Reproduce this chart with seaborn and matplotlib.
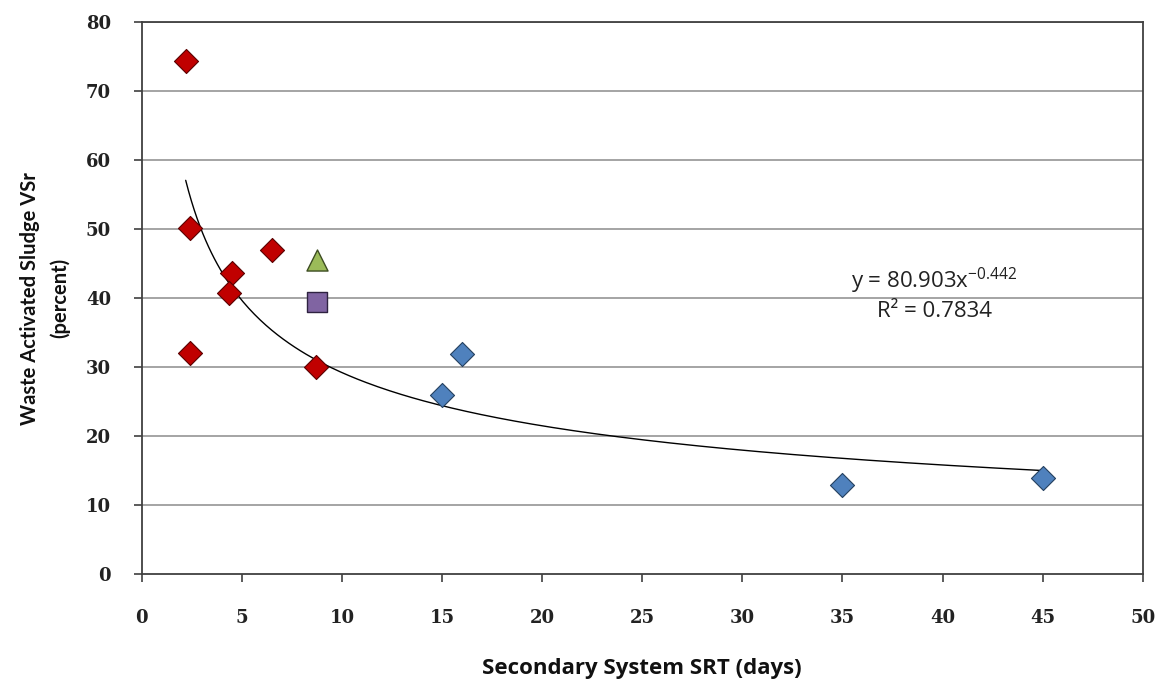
import numpy as np
import pandas as pd
import matplotlib
matplotlib.use('Agg')
import matplotlib.pyplot as plt
import seaborn as sns

# data
red_srt = [2.2, 2.4, 2.4, 4.5, 4.35, 6.5, 8.7]
red_vsr = [74.4, 50.2, 32.1, 43.6, 40.7, 47.0, 30.1]
blue_srt = [15, 16, 35, 45]
blue_vsr = [26, 32, 13, 14]
green_srt = [8.75]
green_vsr = [45.6]
purple_srt = [8.75]
purple_vsr = [39.5]

# power trendline shown on the chart
fit_a = 80.903
fit_b = -0.442
fit_r2 = 0.7834

x_ticks = list(range(0, 55, 5))
y_ticks = list(range(0, 90, 10))

sns.set_style('white')
plt.rcParams['font.family'] = ['Open Sans', 'DejaVu Sans']
plt.rcParams['mathtext.fontset'] = 'custom'
plt.rcParams['mathtext.rm'] = 'Open Sans'
plt.rcParams['mathtext.it'] = 'Open Sans'

fig = plt.figure(figsize=(11.63, 6.86), dpi=100)
ax = fig.add_axes([0.1218, 0.1628, 0.9826 - 0.1218, 0.9675 - 0.1628])

# gridlines
for yv in y_ticks[1:]:
    ax.axhline(yv, color='#8c8c8c', lw=1.1, zorder=0)

# trendline
all_srt = red_srt + blue_srt + green_srt + purple_srt
xs = np.linspace(min(all_srt), max(all_srt), 300)
trend = pd.DataFrame({'x': xs, 'y': fit_a * xs ** fit_b})
sns.lineplot(data=trend, x='x', y='y', color='black', lw=1.0, ax=ax, zorder=2)

sns.scatterplot(x=red_srt, y=red_vsr, marker='D', s=150, color='#C00000',
                edgecolor='#5a0000', linewidth=0.8, ax=ax, zorder=3)
sns.scatterplot(x=blue_srt, y=blue_vsr, marker='D', s=150, color='#4F81BD',
                edgecolor='#24405f', linewidth=0.8, ax=ax, zorder=3)
sns.scatterplot(x=green_srt, y=green_vsr, marker='^', s=230, color='#9BBB59',
                edgecolor='#3d4d22', linewidth=1.0, ax=ax, zorder=3)
sns.scatterplot(x=purple_srt, y=purple_vsr, marker='s', s=200, color='#8064A2',
                edgecolor='#2e2240', linewidth=1.0, ax=ax, zorder=3)

ax.text(39.6, 42.5, r'y = 80.903x$^{-0.442}$', ha='center', va='center',
        fontsize=16, color='#222222')
ax.text(39.6, 38.1, f'R² = {fit_r2}', ha='center', va='center',
        fontsize=16, color='#222222')

ax.set_xlim(0, 50)
ax.set_ylim(0, 80)
ax.set_xticks(x_ticks)
ax.set_yticks(y_ticks)
for sp in ax.spines.values():
    sp.set_visible(True)
    sp.set_color('#404040')
    sp.set_linewidth(1.3)
ax.tick_params(axis='both', direction='out', length=6, width=1.2, color='#404040',
               bottom=True, left=True, pad=16)
ax.tick_params(axis='x', pad=19)
for lbl in ax.get_xticklabels() + ax.get_yticklabels():
    lbl.set_family('DejaVu Serif')
    lbl.set_fontweight('bold')
    lbl.set_fontsize(13)
    lbl.set_color('#222222')

ax.set_xlabel('Secondary System SRT (days)', fontsize=16, fontweight='bold',
              labelpad=22, color='#111111')
ax.set_ylabel('Waste Activated Sludge VSr\n(percent)', fontsize=14.5, fontweight='bold',
              family=['Lato', 'DejaVu Sans'], linespacing=1.6, labelpad=11,
              color='#111111')

fig.savefig('out.png', dpi=100)
